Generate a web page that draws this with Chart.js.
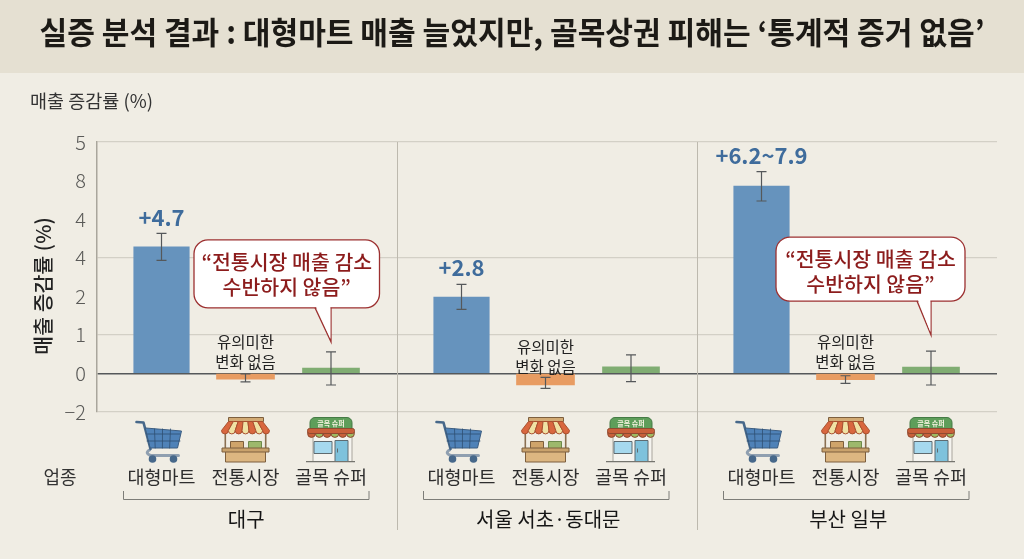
<!DOCTYPE html>
<html>
<head>
  <meta charset="utf-8">
  <title>실증 분석 결과</title>
  <script src="https://cdn.jsdelivr.net/npm/chart.js"></script>
  <style>
    html, body { margin: 0; padding: 0; background: #f0ede4; }
    #wrap { position: relative; width: 1024px; height: 559px; }
  </style>
</head>
<body>
  <div id="wrap"><canvas id="myChart" width="1024" height="559"></canvas></div>

  <script>
    // chart data
    const regions = ['대구', '서울 서초·동대문', '부산 일부'];
    const categories = ['대형마트', '전통시장', '골목 슈퍼'];
    // the printed y axis is not in order, so values are in tick slots (slot 0 = the "0" line)
    const tickLabels = ['−2', '0', '1', '2', '4', '4', '8', '5'];
    const hypermart = [3.28, 1.98, 4.86];
    const market = [-0.15, -0.30, -0.165];
    const superStore = [0.14, 0.17, 0.165];
    const errHigh = [[3.63, -0.01, 0.56], [2.31, -0.10, 0.48], [5.23, -0.06, 0.58]];
    const errLow = [[2.93, -0.22, -0.30], [1.66, -0.39, -0.21], [4.47, -0.26, -0.30]];
    const valueLabels = ['+4.7', '+2.8', '+6.2~7.9'];

    const slotOffsets = [0.215, 0.495, 0.78];
    const barColors = ['#6693bd', '#e89c62', '#80ad72'];
    const korean = '"Noto Sans CJK KR", "Noto Sans", sans-serif';

    function barData(values, slot) {
      return values.map((v, i) => ({ x: i + slotOffsets[slot], y: v }));
    }

    function text(ctx, str, x, y, font, color, align, maxWidth) {
      ctx.font = font;
      ctx.fillStyle = color;
      ctx.textAlign = align || 'center';
      ctx.textBaseline = 'middle';
      if (maxWidth) ctx.fillText(str, x, y, maxWidth);
      else ctx.fillText(str, x, y);
    }

    function callout(ctx, tipX, tipY, left, right, top, bottom, tailLeft) {
      ctx.beginPath();
      ctx.roundRect(left, top, right - left, bottom - top, 14);
      ctx.fillStyle = '#fff';
      ctx.strokeStyle = '#9c3030';
      ctx.lineWidth = 1.3;
      ctx.fill();
      ctx.stroke();
      // tail, painted over the bottom border
      ctx.beginPath();
      ctx.moveTo(tailLeft, bottom);
      ctx.lineTo(tipX, tipY);
      ctx.lineTo(tipX, bottom);
      ctx.stroke();
      ctx.beginPath();
      ctx.moveTo(tailLeft + 1, bottom - 1);
      ctx.lineTo(tipX - 0.6, tipY - 3);
      ctx.lineTo(tipX - 0.6, bottom - 1);
      ctx.closePath();
      ctx.fill();
      const cx = (left + right) / 2;
      const font = '500 20.5px ' + korean;
      text(ctx, '“전통시장 매출 감소', cx, top + 22, font, '#8c1c1c');
      text(ctx, '수반하지 않음”', cx, top + 47, font, '#8c1c1c');
    }

    function shape(ctx, fill, draw, stroke) {
      ctx.beginPath();
      draw();
      if (fill) { ctx.fillStyle = fill; ctx.fill(); }
      if (stroke) { ctx.strokeStyle = stroke; ctx.lineWidth = 1; ctx.stroke(); }
    }

    // icons are measured from their centre line and top edge
    function drawCart(ctx, x, y) {
      ctx.lineCap = 'round';
      ctx.lineJoin = 'round';
      // lower rail
      ctx.strokeStyle = '#8f9fb0';
      ctx.lineWidth = 3;
      ctx.beginPath();
      ctx.moveTo(-12 + x, y + 30);
      ctx.quadraticCurveTo(-17 + x, y + 33, -11 + x, y + 35.5);
      ctx.lineTo(x + 17, y + 35.5);
      ctx.stroke();
      // handle
      ctx.strokeStyle = '#47688a';
      ctx.lineWidth = 2.6;
      ctx.beginPath();
      ctx.moveTo(x - 25, y + 2);
      ctx.lineTo(x - 18, y + 2.5);
      ctx.lineTo(x - 11, y + 29);
      ctx.stroke();
      // basket
      shape(ctx, '#4f82b8', () => {
        ctx.moveTo(x - 16, y + 8);
        ctx.lineTo(x + 20, y + 11);
        ctx.lineTo(x + 16, y + 28);
        ctx.lineTo(x - 11, y + 28);
        ctx.closePath();
      }, '#3d5e82');
      ctx.strokeStyle = '#2f4f72';
      ctx.lineWidth = 0.8;
      ctx.beginPath();
      [-7, 1, 9].forEach(d => { ctx.moveTo(x + d, y + 9); ctx.lineTo(x + d * 0.9, y + 28); });
      [14, 21].forEach(d => { ctx.moveTo(x - 14.5, y + d); ctx.lineTo(x + 18.5, y + d); });
      ctx.stroke();
      [-9, 12].forEach(d => {
        shape(ctx, '#47688a', () => ctx.arc(x + d, y + 39, 3.8, 0, Math.PI * 2));
      });
      ctx.lineCap = 'butt';
      ctx.lineJoin = 'miter';
    }

    function drawStall(ctx, x, y) {
      const line = '#7d5f3e';
      // posts and crates
      shape(ctx, '#8a6f50', () => { ctx.rect(x - 21, y + 16, 1.6, 15); ctx.rect(x + 19.4, y + 16, 1.6, 15); });
      shape(ctx, '#cfa46a', () => ctx.rect(x - 15, y + 24, 13, 7), line);
      shape(ctx, '#9db86c', () => ctx.rect(x + 3, y + 24, 13, 7), '#6d8a4c');
      // counter
      shape(ctx, '#dcb681', () => ctx.rect(x - 20, y + 34, 40, 10.5), line);
      shape(ctx, '#c9a26c', () => ctx.rect(x - 23.5, y + 30.5, 47, 4), line);
      // roof bar and awning
      shape(ctx, '#d2aa74', () => ctx.rect(x - 17, y, 35, 4), line);
      const stripes = ['#d9673f', '#f0e2a4', '#d9673f', '#f0e2a4', '#d9673f', '#f0e2a4', '#d9673f'];
      stripes.forEach((c, i) => {
        const a = x - 17 + i * 34 / 7, b = a + 34 / 7;
        const p = x - 24 + i * 48 / 7, q = p + 48 / 7;
        shape(ctx, c, () => {
          ctx.moveTo(a, y + 4);
          ctx.lineTo(b, y + 4);
          ctx.lineTo(q, y + 13);
          ctx.arc((p + q) / 2, y + 13, (q - p) / 2, 0, Math.PI);
          ctx.closePath();
        }, '#a9502f');
      });
    }

    function drawShop(ctx, x, y) {
      const line = '#5f6b70';
      // sign with the shop name
      shape(ctx, '#5e9e5a', () => ctx.roundRect(x - 21, y, 42, 12, [5, 5, 0, 0]), '#457a45');
      text(ctx, '골목 슈퍼', x, y + 6, '700 7px ' + korean, '#f4f2df');
      // walls, window and door
      shape(ctx, '#f5f4ef', () => ctx.rect(x - 18, y + 17, 39, 27), '#a8a59c');
      shape(ctx, '#a6d9ee', () => ctx.rect(x - 17, y + 24, 18, 12), line);
      shape(ctx, '#7ec2dc', () => ctx.rect(x + 4, y + 23, 13, 21), line);
      shape(ctx, '#5f6b70', () => ctx.rect(x + 6, y + 31, 1, 4));
      shape(ctx, '#75756f', () => ctx.rect(x - 25, y + 43.6, 49, 1.2));
      // awning
      const scallops = ['#c9603a', '#9dbb62', '#c9603a', '#9dbb62', '#c9603a', '#9dbb62'];
      scallops.forEach((c, i) => {
        shape(ctx, c, () => ctx.arc(x - 19.5 + i * 7.8, y + 16, 3.9, 0, Math.PI * 2), '#8f4a30');
      });
      shape(ctx, '#c9603a', () => ctx.roundRect(x - 23.5, y + 11, 47, 5, 2), '#8f4a30');
    }

    const decorations = {
      id: 'decorations',
      beforeDraw(chart) {
        const ctx = chart.ctx;
        ctx.save();
        ctx.fillStyle = '#f0ede4';
        ctx.fillRect(0, 0, chart.width, chart.height);
        ctx.fillStyle = '#e5e0d2';
        ctx.fillRect(0, 0, chart.width, 73);
        ctx.restore();
      },
      afterDatasetsDraw(chart) {
        const ctx = chart.ctx;
        const xs = chart.scales.x, ys = chart.scales.y;
        ctx.save();

        // dividers between the regions run down past the plot
        ctx.strokeStyle = '#bdb9ae';
        ctx.lineWidth = 1;
        [1, 2].forEach(g => {
          const px = Math.round(xs.getPixelForValue(g)) + 0.5;
          ctx.beginPath();
          ctx.moveTo(px, ys.top);
          ctx.lineTo(px, 530);
          ctx.stroke();
        });

        // error bars
        ctx.strokeStyle = '#55585a';
        ctx.lineWidth = 1.2;
        regions.forEach((r, g) => {
          slotOffsets.forEach((off, s) => {
            const px = xs.getPixelForValue(g + off);
            const hi = ys.getPixelForValue(errHigh[g][s]);
            const lo = ys.getPixelForValue(errLow[g][s]);
            ctx.beginPath();
            ctx.moveTo(px, hi);
            ctx.lineTo(px, lo);
            ctx.moveTo(px - 5, hi);
            ctx.lineTo(px + 5, hi);
            ctx.moveTo(px - 5, lo);
            ctx.lineTo(px + 5, lo);
            ctx.stroke();
          });
        });

        // headings
        text(ctx, '실증 분석 결과 : 대형마트 매출 늘었지만, 골목상권 피해는 ‘통계적 증거 없음’', 512, 32,
          '700 31px ' + korean, '#1c1a16', 'center', 945);
        text(ctx, '매출 증감률 (%)', 30, 101, '400 18.5px ' + korean, '#333', 'left');
        ctx.save();
        ctx.translate(43, 286);
        ctx.rotate(-Math.PI / 2);
        text(ctx, '매출 증감률 (%)', 0, 0, '500 20.5px ' + korean, '#222');
        ctx.restore();

        // value labels, notes and callouts
        const labelGap = [16, 17, 16];
        regions.forEach((r, g) => {
          const bx = xs.getPixelForValue(g + slotOffsets[0]);
          text(ctx, valueLabels[g], bx, ys.getPixelForValue(errHigh[g][0]) - labelGap[g],
            '700 22px ' + korean, '#3f6c9c');
          const mx = xs.getPixelForValue(g + slotOffsets[1]);
          const noteY = ys.getPixelForValue(0) - (g === 1 ? 26 : 31);
          text(ctx, '유의미한', mx, noteY, '400 15.5px ' + korean, '#222');
          text(ctx, '변화 없음', mx, noteY + 20, '400 15.5px ' + korean, '#222');
        });
        const tip0 = xs.getPixelForValue(slotOffsets[2]);
        const tipY0 = ys.getPixelForValue(errHigh[0][2]) - 10;
        callout(ctx, tip0, tipY0, tip0 - 137, tip0 + 48.5, tipY0 - 102, tipY0 - 34, tip0 - 16);
        const tip2 = xs.getPixelForValue(2 + slotOffsets[2]);
        const tipY2 = ys.getPixelForValue(errHigh[2][2]) - 16;
        callout(ctx, tip2, tipY2, tip2 - 155, tip2 + 34, tipY2 - 98, tipY2 - 34, tip2 - 14);

        // icons and labels under the plot
        const iconDraw = [drawCart, drawStall, drawShop];
        text(ctx, '업종', 60, 477, '400 18px ' + korean, '#333');
        regions.forEach((r, g) => {
          slotOffsets.forEach((off, s) => {
            const px = xs.getPixelForValue(g + off);
            iconDraw[s](ctx, px, s === 0 ? 420 : 417.5);
            text(ctx, categories[s], px, 477, '400 18.5px ' + korean, '#2e2e2e');
          });
          const left = xs.getPixelForValue(g + slotOffsets[0]) - 38;
          const right = xs.getPixelForValue(g + slotOffsets[2]) + 38;
          ctx.strokeStyle = '#7d7d78';
          ctx.lineWidth = 1;
          ctx.beginPath();
          ctx.moveTo(left, 491);
          ctx.lineTo(left, 499.5);
          ctx.lineTo(right, 499.5);
          ctx.lineTo(right, 491);
          ctx.stroke();
          text(ctx, r, (left + right) / 2 + (g === 0 ? 0 : 2), 519, '400 20px ' + korean, '#151515');
        });
        ctx.restore();
      }
    };

    const ctx = document.getElementById('myChart').getContext('2d');
    const myChart = new Chart(ctx, {
      type: 'bar',
      data: {
        datasets: [
          { label: categories[0], data: barData(hypermart, 0), backgroundColor: barColors[0], barThickness: 55.5 },
          { label: categories[1], data: barData(market, 1), backgroundColor: barColors[1], barThickness: 58 },
          { label: categories[2], data: barData(superStore, 2), backgroundColor: barColors[2], barThickness: 57 }
        ]
      },
      options: {
        responsive: false,
        animation: false,
        layout: { padding: { top: 142, right: 27, bottom: 147, left: 0 } },
        datasets: { bar: { grouped: false } },
        plugins: { legend: { display: false }, tooltip: { enabled: false } },
        scales: {
          x: {
            type: 'linear',
            display: false,
            offset: false,
            min: 0,
            max: 3,
            grid: { display: false }
          },
          y: {
            min: -1,
            max: 6,
            afterFit(scale) { scale.width = 97; },
            afterBuildTicks(scale) {
              scale.ticks = tickLabels.map((t, i) => ({ value: i - 1 }));
            },
            ticks: {
              padding: 11,
              color: '#5a5a58',
              font: { family: korean, size: 20, weight: '300' },
              callback: (v) => tickLabels[v + 1]
            },
            border: { color: '#a9a69c', width: 1.5 },
            grid: {
              drawTicks: false,
              color: (c) => {
                const v = c.tick ? c.tick.value : null;
                if (v === 0) return '#55585a';
                return [-1, 1, 3, 6].includes(v) ? '#d3d0c6' : 'rgba(0,0,0,0)';
              },
              lineWidth: (c) => (c.tick && c.tick.value === 0 ? 1.4 : 1.2)
            }
          }
        }
      },
      plugins: [decorations]
    });
  </script>
</body>
</html>
